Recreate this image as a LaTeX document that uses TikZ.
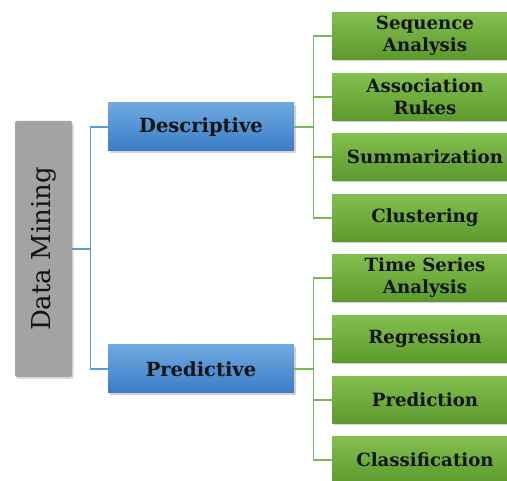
\documentclass[tikz,border=0pt]{standalone}
\usepackage{fontspec}
\setmainfont{DejaVu Serif}
\usetikzlibrary{shadows}
\definecolor{bluetop}{HTML}{6EA9E0}
\definecolor{bluebot}{HTML}{3A7CC6}
\definecolor{greentop}{HTML}{82BF4E}
\definecolor{greenbot}{HTML}{5C9A2E}
\definecolor{grayfill}{HTML}{A3A3A3}
\definecolor{blueline}{HTML}{5B9BD5}
\definecolor{greenline}{HTML}{7AB651}
\definecolor{txt}{HTML}{141414}
\tikzset{
  rootbox/.style={draw=none, fill=grayfill, rounded corners=2pt, minimum width=57pt, minimum height=256pt, inner sep=0pt,
    drop shadow={opacity=0.3, shadow xshift=1.5pt, shadow yshift=-2pt}},
  catbox/.style={draw=none, top color=bluetop, bottom color=bluebot, minimum width=186pt, minimum height=48pt, inner sep=0pt,
    font=\fontsize{19.5}{22}\selectfont\bfseries, text=txt,
    drop shadow={opacity=0.35, shadow xshift=1.5pt, shadow yshift=-2pt}},
  leafbox/.style={draw=none, top color=greentop, bottom color=greenbot, minimum width=186pt, minimum height=47pt, inner sep=0pt,
    font=\fontsize{18.2}{22}\selectfont\bfseries, text=txt, align=center,
    drop shadow={opacity=0.35, shadow xshift=1.5pt, shadow yshift=-2pt}},
  bline/.style={draw=blueline, line width=1.2pt},
  gline/.style={draw=greenline, line width=1.2pt}
}
\begin{document}
\begin{tikzpicture}[x=1pt,y=-1pt]
\useasboundingbox (0,0) rectangle (507,481);
\node[rootbox] (dm) at (43.5,249) {};
\node[rotate=90, font=\fontsize{26}{30}\selectfont, text=txt] (dmt) at (dm.center) {Data Mining};
\node[catbox] (desc) at (201,127) {Descriptive};
\node[catbox] (pred) at (201,369) {Predictive};
\node[leafbox] (g1) at (425,36) {Sequence\\Analysis};
\node[leafbox] (g2) at (425,97) {Association\\Rukes};
\node[leafbox] (g3) at (425,157) {Summarization};
\node[leafbox] (g4) at (425,218) {Clustering};
\node[leafbox] (g5) at (425,278) {Time Series\\Analysis};
\node[leafbox] (g6) at (425,339) {Regression};
\node[leafbox] (g7) at (425,400) {Prediction};
\node[leafbox] (g8) at (425,460) {Classification};
\draw[bline] (dm.east) -- ++(18,0) |- (desc.west);
\draw[bline] (dm.east) -- ++(18,0) |- (pred.west);
\foreach \g in {g1,g2,g3,g4}{\draw[gline] (desc.east) -- ++(19,0) |- (\g.west);}
\foreach \g in {g5,g6,g7,g8}{\draw[gline] (pred.east) -- ++(19,0) |- (\g.west);}
\end{tikzpicture}
\end{document}
